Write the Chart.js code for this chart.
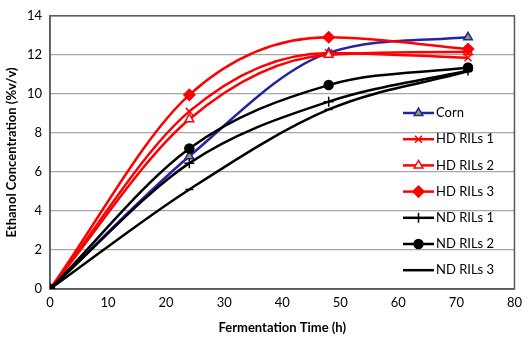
<!DOCTYPE html>
<html>
<head>
<meta charset="utf-8">
<script src="https://cdn.jsdelivr.net/npm/chart.js@4"></script>
<style>
  html, body { margin: 0; padding: 0; background: #fff; }
  #wrap { width: 528px; height: 340px; }
</style>
</head>
<body>
<div id="wrap"><canvas id="ethanolChart"></canvas></div>
<script>
// Fermentation time points (h)
const times = [0, 24, 48, 72];

// Ethanol concentration (%v/v) per line
const corn = [0, 6.8, 12.1, 12.9];
const hdRils1 = [0, 9.1, 12.1, 11.85];
const hdRils2 = [0, 8.7, 12.0, 12.15];
const hdRils3 = [0, 9.95, 12.9, 12.3];
const ndRils1 = [0, 6.45, 9.6, 11.2];
const ndRils2 = [0, 7.2, 10.45, 11.35];
const ndRils3 = [0, 5.1, 9.2, 11.15];

const xTicks = [0, 10, 20, 30, 40, 50, 60, 70, 80];
const yTicks = [0, 2, 4, 6, 8, 10, 12, 14];

const font = "Lato, 'Liberation Sans', sans-serif";

function toPoints(values) {
  return values.map((v, i) => ({ x: times[i], y: v }));
}

function series(label, values, color, style, fill, radius) {
  return {
    label: label,
    data: toPoints(values),
    borderColor: color,
    borderWidth: 2.5,
    pointStyle: style,
    pointRadius: radius,
    pointBackgroundColor: fill,
    pointBorderColor: color,
    pointBorderWidth: 1.5,
    cubicInterpolationMode: 'monotone',
    fill: false
  };
}

const datasets = [
  series('Corn', corn, '#2424A3', 'triangle', '#8FA64A', 5),
  series('HD RILs 1', hdRils1, '#FF0000', 'crossRot', '#FF0000', 5),
  series('HD RILs 2', hdRils2, '#FF0000', 'triangle', '#FFFFFF', 5),
  series('HD RILs 3', hdRils3, '#FF0000', 'rectRot', '#FF0000', 5.5),
  series('ND RILs 1', ndRils1, '#000000', 'cross', '#000000', 5),
  series('ND RILs 2', ndRils2, '#000000', 'circle', '#000000', 4.5),
  series('ND RILs 3', ndRils3, '#000000', 'line', '#000000', 4)
];
// later series on top, like the original
datasets.forEach((d, i) => { d.order = datasets.length - i; });

// plot frame (top and right edges)
const framePlugin = {
  id: 'frame',
  beforeDatasetsDraw(chart) {
    const a = chart.chartArea;
    const ctx = chart.ctx;
    ctx.save();
    ctx.strokeStyle = '#5a5a5a';
    ctx.lineWidth = 1.5;
    ctx.strokeRect(a.left, a.top, a.right - a.left, a.bottom - a.top);
    ctx.restore();
  }
};

// legend drawn inside the plot, right side
const legendPlugin = {
  id: 'insideLegend',
  afterDraw(chart) {
    const ctx = chart.ctx;
    const x0 = 403, x1 = 434, top = 113, step = 26.2;
    ctx.save();
    chart.data.datasets.forEach((d, i) => {
      const y = top + i * step;
      ctx.strokeStyle = d.borderColor;
      ctx.lineWidth = d.borderWidth;
      ctx.beginPath();
      ctx.moveTo(x0, y);
      ctx.lineTo(x1, y);
      ctx.stroke();
      ctx.fillStyle = d.pointBackgroundColor;
      ctx.strokeStyle = d.pointBorderColor;
      ctx.lineWidth = d.pointBorderWidth;
      Chart.helpers.drawPoint(ctx, { pointStyle: d.pointStyle, radius: d.pointRadius, rotation: 0, borderWidth: d.pointBorderWidth }, (x0 + x1) / 2, y);
      ctx.fillStyle = '#000';
      ctx.font = '13px ' + font;
      ctx.textBaseline = 'middle';
      ctx.textAlign = 'left';
      ctx.fillText(d.label, x1 + 2, y);
    });
    ctx.restore();
  }
};

const ctx = document.getElementById('ethanolChart').getContext('2d');
new Chart(ctx, {
  type: 'line',
  data: { datasets: datasets },
  options: {
    responsive: true,
    maintainAspectRatio: false,
    animation: false,
    layout: { padding: { top: 9, right: 12, left: 0, bottom: 0 } },
    plugins: {
      legend: { display: false },
      tooltip: { enabled: false }
    },
    scales: {
      x: {
        type: 'linear',
        min: 0,
        max: 80,
        afterBuildTicks(scale) { scale.ticks = xTicks.map(v => ({ value: v })); },
        afterFit(scale) { scale.height = 51; },
        grid: { display: false, drawTicks: false },
        border: { color: '#5a5a5a', width: 1.5 },
        ticks: { color: '#000', padding: 6, font: { family: font, size: 13 } },
        title: {
          display: true,
          text: 'Fermentation Time (h)',
          color: '#000',
          padding: { top: 1 },
          font: { family: font, size: 13, weight: 'bold' }
        }
      },
      y: {
        min: 0,
        max: 14,
        afterBuildTicks(scale) { scale.ticks = yTicks.map(v => ({ value: v })); },
        afterFit(scale) { scale.width = 50; },
        grid: { color: '#a6a6a6', lineWidth: 1.2, drawTicks: false },
        border: { color: '#5a5a5a', width: 1.5 },
        ticks: { color: '#000', padding: 8, font: { family: font, size: 13 } },
        title: {
          display: true,
          text: 'Ethanol Concentration (%v/v)',
          color: '#000',
          padding: { bottom: 2 },
          font: { family: font, size: 13, weight: 'bold' }
        }
      }
    }
  },
  plugins: [framePlugin, legendPlugin]
});
</script>
</body>
</html>
